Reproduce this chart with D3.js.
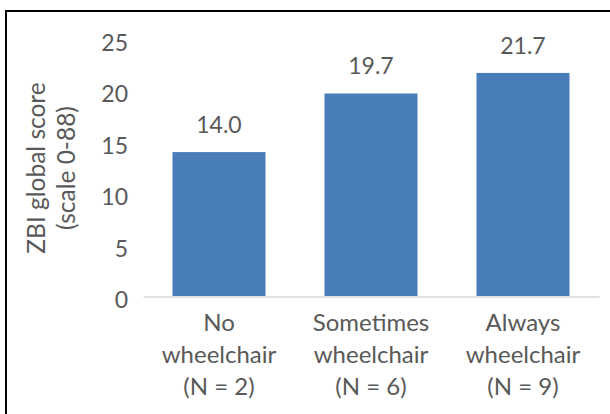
<!DOCTYPE html>
<html>
<head>
<meta charset="utf-8">
<script src="https://cdn.jsdelivr.net/npm/d3@7"></script>
<style>
  html, body { margin: 0; padding: 0; background: #fff; }
  svg { display: block; }
  text { font-family: Lato, "Open Sans", sans-serif; fill: #595959; }
</style>
</head>
<body>
<svg id="chart" width="610" height="414"></svg>
<script>
// Chart data
const categories = ["No wheelchair (N = 2)", "Sometimes wheelchair (N = 6)", "Always wheelchair (N = 9)"];
const categoryLines = [["No", "wheelchair", "(N = 2)"], ["Sometimes", "wheelchair", "(N = 6)"], ["Always", "wheelchair", "(N = 9)"]];
const scores = [14.0, 19.7, 21.7];
const yTicks = [0, 5, 10, 15, 20, 25];
const yTitle = ["ZBI global score", "(scale 0-88)"];

const svg = d3.select("#chart");

// Outer frame
svg.append("rect")
  .attr("x", 6).attr("y", 11)
  .attr("width", 700).attr("height", 500)
  .attr("fill", "none").attr("stroke", "#000").attr("stroke-width", 2);

const x = d3.scaleBand()
  .domain(categories)
  .range([143, 599])
  .paddingInner(0.388)
  .paddingOuter(0.194);

const y = d3.scaleLinear().domain([0, 25]).range([296, 39]);

// Y axis labels (no axis line)
const yAxis = d3.axisLeft(y).tickValues(yTicks).tickSize(0).tickPadding(0);
const gy = svg.append("g").attr("transform", "translate(128,0)").call(yAxis);
gy.select(".domain").remove();
gy.selectAll("text")
  .attr("dy", null)
  .attr("y", 11.5)
  .attr("text-anchor", "end")
  .style("font-family", "Lato, 'Open Sans', sans-serif")
  .style("font-size", "23px")
  .attr("fill", "#595959");

// Bars
svg.append("g").selectAll("rect")
  .data(scores)
  .join("rect")
  .attr("x", (d, i) => x(categories[i]))
  .attr("y", d => y(d))
  .attr("width", x.bandwidth())
  .attr("height", d => y(0) - y(d))
  .attr("fill", "#4a7ebb");

// Baseline
const gx = svg.append("g").attr("transform", `translate(0,${y(0) + 0.5})`)
  .call(d3.axisBottom(x).tickSize(0).tickFormat(""));
gx.select(".domain").attr("stroke", "#d9d9d9").attr("stroke-width", 1.5);

// Category labels
svg.append("g").selectAll("text")
  .data(categories)
  .join("text")
  .attr("text-anchor", "middle")
  .style("font-size", "24px")
  .attr("x", d => x(d) + x.bandwidth() / 2)
  .attr("y", 331)
  .each(function(d, i) {
    d3.select(this).selectAll("tspan")
      .data(categoryLines[i])
      .join("tspan")
      .attr("x", x(d) + x.bandwidth() / 2)
      .attr("dy", (t, j) => j === 0 ? 0 : 32)
      .text(t => t);
  });

// Value labels
svg.append("g").selectAll("text")
  .data(scores)
  .join("text")
  .attr("text-anchor", "middle")
  .style("font-size", "23px")
  .attr("x", (d, i) => x(categories[i]) + x.bandwidth() / 2)
  .attr("y", d => y(d) - 19)
  .text(d => d.toFixed(1));

// Y axis title
const title = svg.append("text")
  .attr("transform", "translate(0,168) rotate(-90)")
  .attr("text-anchor", "middle")
  .style("font-size", "24.5px");
title.selectAll("tspan")
  .data(yTitle)
  .join("tspan")
  .attr("x", 0)
  .attr("y", (t, j) => 45 + j * 30)
  .text(t => t);
</script>
</body>
</html>
